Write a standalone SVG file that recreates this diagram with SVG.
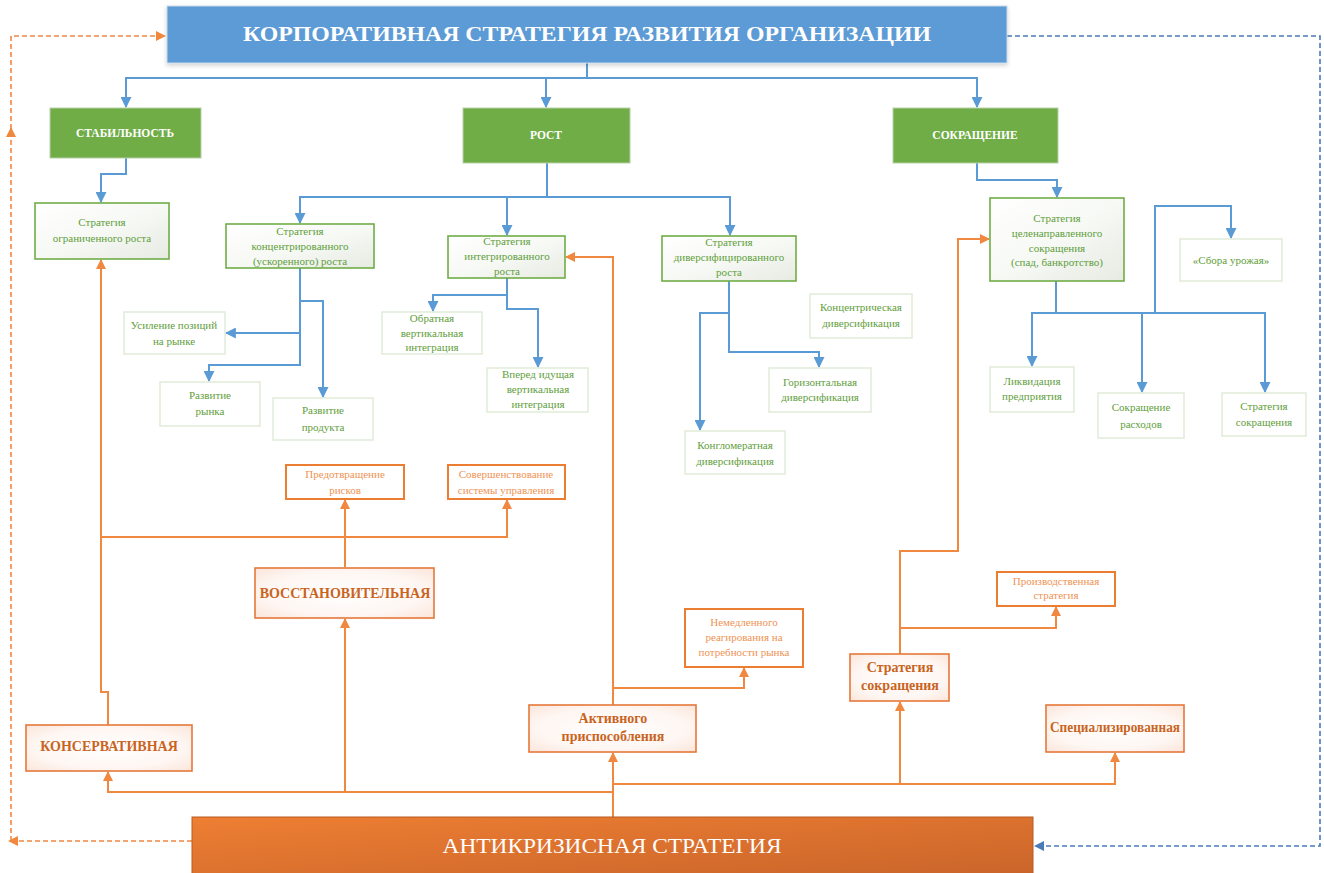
<svg xmlns="http://www.w3.org/2000/svg" width="1324" height="873" viewBox="0 0 1324 873">
  <defs>
    <style>
      .t { font-family: "Liberation Serif", "Times New Roman", serif; text-anchor: middle; }
      .hdr { font-size: 11.5px; font-weight: bold; fill: #ffffff; }
      .gt { font-size: 11px; fill: #5f9e3c; }
      .ot { font-size: 11px; fill: #ee9355; }
      .ob { font-size: 14px; font-weight: bold; fill: #c9641f; }
      .gbox { fill: #70ad47; stroke: #b9cfaa; stroke-width: 1; }
      .sbox { fill: url(#gfill); stroke: #70ad47; stroke-width: 1.6; }
      .lbox { fill: #ffffff; stroke: #e1ebd9; stroke-width: 1.5; }
      .obox { fill: #ffffff; stroke: #ed7d31; stroke-width: 2; }
      .obold { fill: url(#ofill); stroke: #e5793a; stroke-width: 1.6; }
      .cb { fill: none; stroke: #5b9bd5; stroke-width: 2; marker-end: url(#ab); }
      .co { fill: none; stroke: #f08840; stroke-width: 2; marker-end: url(#ao); }
      .dso { fill: none; stroke: #f08840; stroke-width: 1.6; stroke-dasharray: 5 3; }
      .dsb { fill: none; stroke: #4a7ab8; stroke-width: 1.6; stroke-dasharray: 5 3; }
    </style>
    <marker id="ab" viewBox="0 0 10 10" refX="9" refY="5" markerWidth="11" markerHeight="11" markerUnits="userSpaceOnUse" orient="auto">
      <path d="M0,0 L10,5 L0,10 z" fill="#5b9bd5"/>
    </marker>
    <marker id="ao" viewBox="0 0 10 10" refX="9" refY="5" markerWidth="10" markerHeight="10" markerUnits="userSpaceOnUse" orient="auto">
      <path d="M0,0 L10,5 L0,10 z" fill="#f08840"/>
    </marker>
    <marker id="ado" viewBox="0 0 10 10" refX="9" refY="5" markerWidth="10" markerHeight="10" markerUnits="userSpaceOnUse" orient="auto">
      <path d="M0,0 L10,5 L0,10 z" fill="#f08840"/>
    </marker>
    <marker id="adb" viewBox="0 0 10 10" refX="9" refY="5" markerWidth="10" markerHeight="10" markerUnits="userSpaceOnUse" orient="auto">
      <path d="M0,0 L10,5 L0,10 z" fill="#4a7ab8"/>
    </marker>
    <linearGradient id="gfill" x1="0" y1="0" x2="1" y2="1">
      <stop offset="0" stop-color="#ffffff"/>
      <stop offset="0.5" stop-color="#f7f9f5"/>
      <stop offset="1" stop-color="#e6ebe2"/>
    </linearGradient>
    <radialGradient id="ofill" cx="0.5" cy="0.5" r="0.75">
      <stop offset="0" stop-color="#ffffff"/>
      <stop offset="0.6" stop-color="#fef6f2"/>
      <stop offset="1" stop-color="#fae2d5"/>
    </radialGradient>
    <linearGradient id="antifill" x1="0" y1="0" x2="1" y2="1">
      <stop offset="0" stop-color="#ee7f33"/>
      <stop offset="1" stop-color="#c9642a"/>
    </linearGradient>
    <filter id="sh" x="-5%" y="-20%" width="110%" height="150%">
      <feDropShadow dx="0" dy="2" stdDeviation="2" flood-color="#000000" flood-opacity="0.18"/>
    </filter>
  </defs>

  <rect width="1324" height="873" fill="#ffffff"/>

  <!-- connectors -->
  <g id="connectors">
    <!-- corporate strategy to the three basic directions -->
    <path class="cb" d="M587,63 V78 H126 V107"/>
    <path class="cb" d="M587,78 H977 V107"/>
    <path class="cb" d="M546,78 V107"/>
    <!-- stability -->
    <path class="cb" d="M126,158 V174 H101 V202"/>
    <!-- growth -->
    <path class="cb" d="M547,163 V197 H300 V223"/>
    <path class="cb" d="M507,197 V235"/>
    <path class="cb" d="M547,197 H730 V235"/>
    <!-- concentrated growth -->
    <path class="cb" d="M300,268 V365 H209 V381"/>
    <path class="cb" d="M300,301 H323 V397"/>
    <path class="cb" d="M300,333 H226"/>
    <!-- integrated growth -->
    <path class="cb" d="M507,278 V309 H538 V367"/>
    <path class="cb" d="M507,295 H433 V311"/>
    <!-- diversified growth -->
    <path class="cb" d="M729,281 V352 H819 V367"/>
    <path class="cb" d="M729,313 H700 V430"/>
    <!-- reduction -->
    <path class="cb" d="M977,163 V180 H1057 V197"/>
    <path class="cb" d="M1056,280 V313 H1032 V366"/>
    <path class="cb" d="M1056,313 H1265 V392"/>
    <path class="cb" d="M1142,313 V392"/>
    <path class="cb" d="M1155,313 V206 H1231 V238"/>

    <!-- anti-crisis branches -->
    <path class="co" d="M108,725 V692 H101 V260"/>
    <path class="co" d="M101,537 H507 V500"/>
    <path class="co" d="M345,567 V500"/>
    <path class="co" d="M613,817 V792 H108 V772"/>
    <path class="co" d="M345,792 V619"/>
    <path class="co" d="M613,800 V753"/>
    <path class="co" d="M613,784 H1115 V753"/>
    <path class="co" d="M900,784 V702"/>
    <path class="co" d="M613,705 V257 H566"/>
    <path class="co" d="M613,688 H744 V668"/>
    <path class="co" d="M900,654 V551 H958 V239 H989"/>
    <path class="co" d="M900,628 H1056 V607"/>

    <!-- feedback loops -->
    <path class="dso" d="M192,841 H9" marker-end="url(#ado)"/>
    <path class="dso" d="M11,841 V36 H165" marker-end="url(#ado)"/>
    <path d="M6,137 L11,127 L16,137 z" fill="#f08840"/>
    <path class="dsb" d="M1007,36 H1320 V846 H1035" marker-end="url(#adb)"/>
  </g>

  <!-- top banner -->
  <g id="corporate">
    <rect x="167" y="6" width="840" height="57" fill="#5b9bd5" stroke="#c9d9ea" stroke-width="1" filter="url(#sh)"/>
    <text class="t" x="587" y="41" font-size="22" font-weight="bold" fill="#ffffff" textLength="688" lengthAdjust="spacingAndGlyphs">КОРПОРАТИВНАЯ СТРАТЕГИЯ РАЗВИТИЯ ОРГАНИЗАЦИИ</text>
  </g>

  <!-- basic directions -->
  <g id="stability">
    <rect class="gbox" x="50" y="108" width="151" height="50"/>
    <text class="t hdr" x="125" y="137">СТАБИЛЬНОСТЬ</text>
  </g>
  <g id="growth">
    <rect class="gbox" x="463" y="108" width="167" height="55"/>
    <text class="t hdr" x="546" y="139">РОСТ</text>
  </g>
  <g id="reduction">
    <rect class="gbox" x="893" y="108" width="165" height="55"/>
    <text class="t hdr" x="975" y="139">СОКРАЩЕНИЕ</text>
  </g>

  <!-- growth strategies -->
  <g id="limited-growth">
    <rect class="sbox" x="35" y="203" width="134" height="56"/>
    <text class="t gt" x="102" y="226">Стратегия</text>
    <text class="t gt" x="102" y="242">ограниченного роста</text>
  </g>
  <g id="concentrated-growth">
    <rect class="sbox" x="226" y="224" width="148" height="44"/>
    <text class="t gt" x="300" y="235">Стратегия</text>
    <text class="t gt" x="300" y="250">концентрированного</text>
    <text class="t gt" x="300" y="265">(ускоренного) роста</text>
  </g>
  <g id="integrated-growth">
    <rect class="sbox" x="448" y="236" width="117" height="42"/>
    <text class="t gt" x="507" y="245">Стратегия</text>
    <text class="t gt" x="507" y="260">интегрированного</text>
    <text class="t gt" x="507" y="275">роста</text>
  </g>
  <g id="diversified-growth">
    <rect class="sbox" x="662" y="236" width="134" height="45"/>
    <text class="t gt" x="729" y="246">Стратегия</text>
    <text class="t gt" x="729" y="261">диверсифицированного</text>
    <text class="t gt" x="729" y="276">роста</text>
  </g>
  <g id="targeted-reduction">
    <rect class="sbox" x="990" y="198" width="134" height="83"/>
    <text class="t gt" x="1057" y="222">Стратегия</text>
    <text class="t gt" x="1057" y="237">целенаправленного</text>
    <text class="t gt" x="1057" y="252">сокращения</text>
    <text class="t gt" x="1057" y="266">(спад, банкротство)</text>
  </g>

  <!-- concentrated growth options -->
  <g id="market-position">
    <rect class="lbox" x="124" y="312" width="101" height="42"/>
    <text class="t gt" x="174" y="329">Усиление позиций</text>
    <text class="t gt" x="174" y="345">на рынке</text>
  </g>
  <g id="market-development">
    <rect class="lbox" x="160" y="382" width="100" height="44"/>
    <text class="t gt" x="210" y="399">Развитие</text>
    <text class="t gt" x="210" y="415">рынка</text>
  </g>
  <g id="product-development">
    <rect class="lbox" x="273" y="398" width="100" height="42"/>
    <text class="t gt" x="323" y="414">Развитие</text>
    <text class="t gt" x="323" y="431">продукта</text>
  </g>

  <!-- integrated growth options -->
  <g id="backward-integration">
    <rect class="lbox" x="382" y="312" width="100" height="42"/>
    <text class="t gt" x="432" y="322">Обратная</text>
    <text class="t gt" x="432" y="337">вертикальная</text>
    <text class="t gt" x="432" y="351">интеграция</text>
  </g>
  <g id="forward-integration">
    <rect class="lbox" x="487" y="368" width="101" height="44"/>
    <text class="t gt" x="538" y="378">Вперед идущая</text>
    <text class="t gt" x="538" y="393">вертикальная</text>
    <text class="t gt" x="538" y="408">интеграция</text>
  </g>

  <!-- diversification options -->
  <g id="concentric-div">
    <rect class="lbox" x="810" y="294" width="102" height="44"/>
    <text class="t gt" x="861" y="311">Концентрическая</text>
    <text class="t gt" x="861" y="327">диверсификация</text>
  </g>
  <g id="horizontal-div">
    <rect class="lbox" x="769" y="368" width="102" height="44"/>
    <text class="t gt" x="820" y="386">Горизонтальная</text>
    <text class="t gt" x="820" y="401">диверсификация</text>
  </g>
  <g id="conglomerate-div">
    <rect class="lbox" x="685" y="431" width="100" height="43"/>
    <text class="t gt" x="735" y="449">Конгломератная</text>
    <text class="t gt" x="735" y="465">диверсификация</text>
  </g>

  <!-- reduction options -->
  <g id="harvest">
    <rect class="lbox" x="1180" y="239" width="102" height="42"/>
    <text class="t gt" x="1231" y="264">«Сбора урожая»</text>
  </g>
  <g id="liquidation">
    <rect class="lbox" x="990" y="367" width="84" height="45"/>
    <text class="t gt" x="1032" y="385">Ликвидация</text>
    <text class="t gt" x="1032" y="400">предприятия</text>
  </g>
  <g id="cost-cutting">
    <rect class="lbox" x="1098" y="393" width="86" height="45"/>
    <text class="t gt" x="1141" y="411">Сокращение</text>
    <text class="t gt" x="1141" y="428">расходов</text>
  </g>
  <g id="reduction-strategy">
    <rect class="lbox" x="1222" y="393" width="84" height="43"/>
    <text class="t gt" x="1264" y="410">Стратегия</text>
    <text class="t gt" x="1264" y="426">сокращения</text>
  </g>

  <!-- anti-crisis strategies -->
  <g id="risk-prevention">
    <rect class="obox" x="286" y="465" width="118" height="34"/>
    <text class="t ot" x="345" y="478">Предотвращение</text>
    <text class="t ot" x="345" y="494">рисков</text>
  </g>
  <g id="management-improvement">
    <rect class="obox" x="448" y="465" width="117" height="34"/>
    <text class="t ot" x="506" y="478">Совершенствование</text>
    <text class="t ot" x="506" y="494">системы управления</text>
  </g>
  <g id="recovery">
    <rect class="obold" x="255" y="568" width="179" height="50"/>
    <text class="t ob" x="345" y="598">ВОССТАНОВИТЕЛЬНАЯ</text>
  </g>
  <g id="conservative">
    <rect class="obold" x="26" y="725" width="166" height="46"/>
    <text class="t ob" x="109" y="751">КОНСЕРВАТИВНАЯ</text>
  </g>
  <g id="market-response">
    <rect class="obox" x="685" y="609" width="118" height="58"/>
    <text class="t ot" x="744" y="626" font-size="10.5">Немедленного</text>
    <text class="t ot" x="744" y="641" font-size="10.5">реагирования на</text>
    <text class="t ot" x="744" y="656" font-size="10.5">потребности рынка</text>
  </g>
  <g id="active-adaptation">
    <rect class="obold" x="529" y="705" width="167" height="47"/>
    <text class="t ob" x="613" y="723">Активного</text>
    <text class="t ob" x="613" y="741">приспособления</text>
  </g>
  <g id="production-strategy">
    <rect class="obox" x="997" y="572" width="118" height="34"/>
    <text class="t ot" x="1056" y="585" font-size="10">Производственная</text>
    <text class="t ot" x="1056" y="599" font-size="10">стратегия</text>
  </g>
  <g id="cutback-strategy">
    <rect class="obold" x="850" y="654" width="99" height="47"/>
    <text class="t ob" x="900" y="672">Стратегия</text>
    <text class="t ob" x="900" y="690">сокращения</text>
  </g>
  <g id="specialized">
    <rect class="obold" x="1046" y="705" width="138" height="47"/>
    <text class="t ob" x="1115" y="732" textLength="130" lengthAdjust="spacingAndGlyphs">Специализированная</text>
  </g>

  <!-- bottom banner -->
  <g id="anti-crisis">
    <rect x="192" y="817" width="841" height="60" fill="url(#antifill)" stroke="#b85a22" stroke-width="1"/>
    <text class="t" x="612" y="853" font-size="22" fill="#ffffff" textLength="339" lengthAdjust="spacingAndGlyphs">АНТИКРИЗИСНАЯ СТРАТЕГИЯ</text>
  </g>
</svg>
